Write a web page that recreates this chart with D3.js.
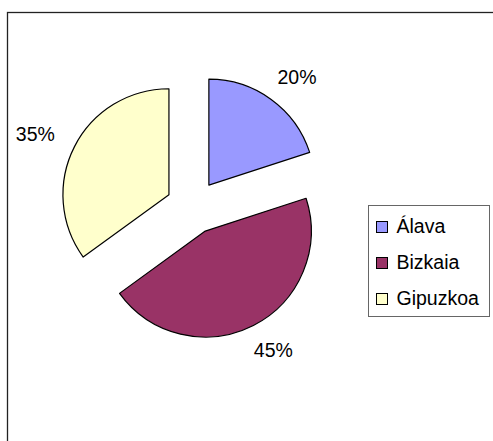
<!DOCTYPE html>
<html>
<head>
<meta charset="utf-8">
<script src="https://cdn.jsdelivr.net/npm/d3@7"></script>
<style>
  body { margin: 0; background: #fff; }
  text { font-family: "Liberation Sans", Arial, sans-serif; fill: #000; }
</style>
</head>
<body>
<div id="chart"></div>
<script>
// data for the pie
const categories = ["Álava", "Bizkaia", "Gipuzkoa"]
const values = [20, 45, 35]
const colors = ["#9999ff", "#993366", "#ffffcc"]

var width = 493
var height = 441
var cx = 193, cy = 207   // pie centre
var radius = 106
var explode = 27
var labelRx = 150, labelRy = 134   // labels sit a bit wider than tall

const svg = d3.select("#chart")
  .append("svg")
  .attr("width", width)
  .attr("height", height)

// chart area border (runs off the right and bottom edge)
svg.append("rect")
  .attr("x", 7.5).attr("y", 12.5)
  .attr("width", 520).attr("height", 460)
  .attr("fill", "none")
  .attr("stroke", "#222")
  .attr("stroke-width", 1.3)

const table = categories.map((c, i) => ({ name: c, value: values[i], color: colors[i] }))
const total = d3.sum(values)

const pie = d3.pie().sort(null).value(d => d.value)
const arc = d3.arc().innerRadius(0).outerRadius(radius)

const mid = d => (d.startAngle + d.endAngle) / 2

// offset of each exploded slice along its middle angle
function shift(d) {
  const a = mid(d)
  return [cx + explode * Math.sin(a), cy - explode * Math.cos(a)]
}

const slices = svg.append("g")
  .selectAll("g")
  .data(pie(table))
  .join("g")
  .attr("transform", d => `translate(${shift(d)})`)

slices.append("path")
  .attr("d", arc)
  .attr("fill", d => d.data.color)
  .attr("stroke", "#000")
  .attr("stroke-width", 1.2)
  .attr("stroke-linejoin", "round")

slices.append("text")
  .attr("x", d => labelRx * Math.sin(mid(d)))
  .attr("y", d => -labelRy * Math.cos(mid(d)))
  .attr("text-anchor", "middle")
  .attr("dy", "0.35em")
  .style("font-size", "19.5px")
  .text(d => Math.round(d.data.value / total * 100) + "%")

// legend
const legend = svg.append("g").attr("transform", "translate(368.5,205.5)")
legend.append("rect")
  .attr("width", 121).attr("height", 111)
  .attr("fill", "#fff")
  .attr("stroke", "#666")
  .attr("stroke-width", 1)

const item = legend.selectAll(".item")
  .data(table)
  .join("g")
  .attr("class", "item")
  .attr("transform", (d, i) => `translate(0,${i * 36})`)

item.append("rect")
  .attr("x", 8).attr("y", 16)
  .attr("width", 11).attr("height", 11)
  .attr("fill", d => d.color)
  .attr("stroke", "#000")
  .attr("stroke-width", 1)

item.append("text")
  .attr("x", 28).attr("y", 27)
  .style("font-size", "19.5px")
  .text(d => d.name)
</script>
</body>
</html>
